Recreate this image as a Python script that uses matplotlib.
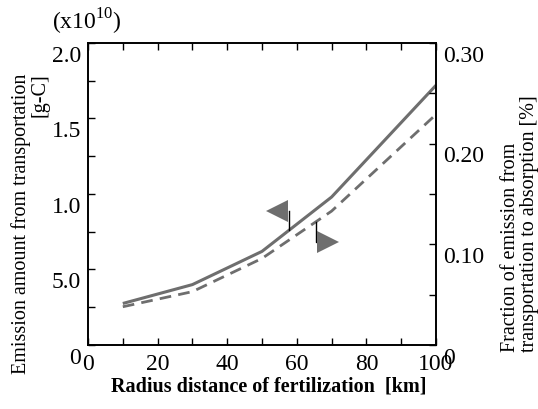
import numpy as np
import matplotlib
matplotlib.use("Agg")
import matplotlib.pyplot as plt
from matplotlib.transforms import ScaledTranslation

plt.rcParams['font.family'] = ['Liberation Serif', 'DejaVu Serif']
plt.rcParams['mathtext.fontset'] = 'custom'
plt.rcParams['mathtext.rm'] = 'Liberation Serif'

# data
radius = [10, 30, 50, 70, 100]                      # km
emission = [0.275, 0.40, 0.62, 0.98, 1.72]          # x1e10 g-C (left axis)
fraction = [0.038, 0.053, 0.086, 0.133, 0.229]      # % (right axis)

x_ticks = [0, 20, 40, 60, 80, 100]
left_ticks = [0, 0.5, 1.0, 1.5, 2.0]
left_labels = ['0', '5.0', '1.0', '1.5', '2.0']
right_ticks = [0, 0.10, 0.20, 0.30]
right_labels = ['0', '0.10', '0.20', '0.30']

gray = '#6e6e6e'

fig = plt.figure(figsize=(5.38, 4.10), dpi=100)
ax = fig.add_axes([0.1636, 0.1561, 0.6468, 0.7366])
ax2 = ax.twinx()

ax.plot(radius, emission, color=gray, lw=2.2, solid_capstyle='butt')
ax2.plot(radius, fraction, color=gray, lw=2.0, linestyle=(0, (4.2, 2.6)))

ax.set_xlim(0, 100)
ax.set_ylim(0, 2.0)
ax2.set_ylim(0, 0.30)

ax.set_xticks(x_ticks)
ax.set_xticks(np.arange(10, 100, 20), minor=True)
ax.set_yticks(left_ticks)
ax.set_yticklabels(left_labels)
ax.set_yticks(np.arange(0.25, 2.0, 0.5), minor=True)
ax2.set_yticks(right_ticks)
ax2.set_yticklabels(right_labels)
ax2.set_yticks(np.arange(0.05, 0.30, 0.10), minor=True)

for a in (ax, ax2):
    for s in a.spines.values():
        s.set_linewidth(1.2)
ax.tick_params(axis='x', which='both', direction='in', top=True, length=5,
               width=1.0, labelsize=17, pad=6)
ax.tick_params(axis='y', which='both', direction='in', length=5, width=1.0,
               labelsize=17, pad=5)
ax2.tick_params(axis='y', which='both', direction='in', length=5, width=1.0,
                labelsize=17, pad=5)

# tick labels on the y axes sit a little below their ticks in the original
shift = ScaledTranslation(0, -7 / 72, fig.dpi_scale_trans)
for lab in ax.get_yticklabels() + ax2.get_yticklabels():
    lab.set_transform(lab.get_transform() + shift)

# pointer to the solid line (left axis)
xs = 57.7
ys = np.interp(xs, radius, emission)
ax.plot([xs, xs], [ys, 0.89], color='black', lw=1.0)
ax.plot(54.3, 0.887, marker='<', color=gray, markersize=16, markeredgewidth=0)

# pointer to the dashed line (right axis)
xd = 65.4
yd = np.interp(xd, radius, fraction)
ax2.plot([xd, xd, 67.0], [yd, 0.1027, 0.1027], color='black', lw=1.0)
ax2.plot(68.9, 0.1022, marker='>', color=gray, markersize=16, markeredgewidth=0)

fig.text(0.162, 0.946, r'(x10$^{10}$)', fontsize=17, ha='center', va='center')
fig.text(0.5, 0.058, 'Radius distance of fertilization  [km]', fontsize=14.5,
         fontweight='bold', ha='center', va='center')
fig.text(0.056, 0.455, 'Emission amount from transportation\n[g-C]', fontsize=14.5,
         rotation=90, ha='center', va='center', multialignment='right',
         linespacing=1.0)
fig.text(0.966, 0.455, 'Fraction of emission from\ntransportation to absorption [%]',
         fontsize=14.5, rotation=90, ha='center', va='center',
         multialignment='left', linespacing=1.0)

fig.savefig('out.png', dpi=100)
